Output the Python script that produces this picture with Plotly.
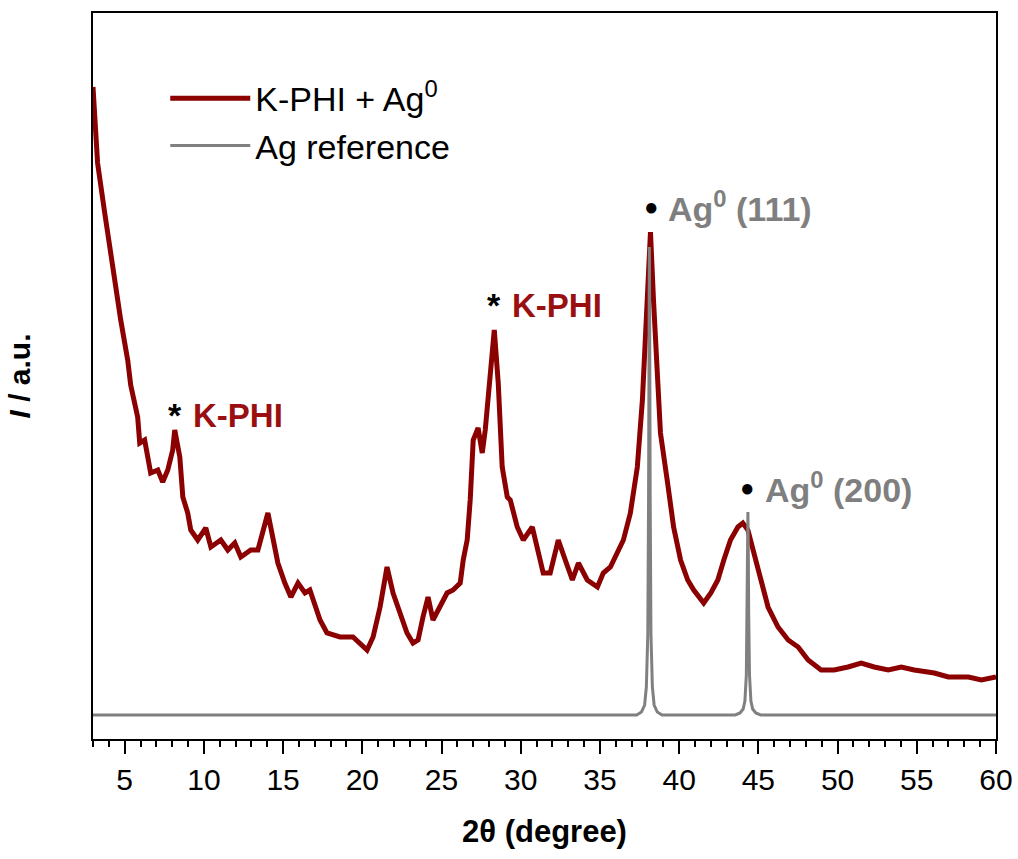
import plotly.graph_objects as go

# K-PHI + Ag0 pattern (2theta in degrees, intensity in a.u.)
two_theta_kphi = [3.0, 3.29, 3.74, 4.12, 4.37, 4.75, 5.19, 5.38, 5.82, 5.95, 6.26, 6.58, 6.64, 7.09, 7.40, 7.72,
                  8.03, 8.16, 8.48, 8.67, 8.98, 9.17, 9.61, 10.12, 10.44, 11.07, 11.51, 11.95, 12.33, 12.96,
                  13.41, 14.04, 14.36, 14.67, 15.11, 15.49, 15.94, 16.38, 16.69, 17.33, 17.77, 18.59, 19.41,
                  20.30, 20.68, 21.12, 21.56, 21.94, 22.38, 22.82, 23.20, 23.52, 23.83, 24.15, 24.46, 24.91,
                  25.35, 25.73, 26.18, 26.37, 26.62, 26.81, 27.00, 27.31, 27.57, 27.76, 28.07, 28.33, 28.58,
                  28.83, 29.15, 29.34, 29.78, 30.16, 30.73, 31.04, 31.42, 31.86, 32.37, 32.81, 33.26, 33.64,
                  34.20, 34.84, 35.21, 35.66, 36.10, 36.48, 36.92, 37.36, 37.68, 37.87, 38.06, 38.19, 38.38,
                  38.63, 38.82, 39.27, 39.65, 40.09, 40.54, 40.92, 41.55, 42.00, 42.44, 42.82, 43.24, 43.71,
                  44.02, 44.34, 44.72, 45.17, 45.61, 46.24, 46.88, 47.51, 48.14, 48.96, 49.78, 50.66, 51.49,
                  52.31, 53.20, 54.02, 54.84, 56.11, 56.99, 58.26, 59.08, 60.0]
intensity_kphi = [628, 552, 502, 462, 428, 395, 355, 330, 298, 272, 275, 252, 242, 245, 233, 245,
                  265, 285, 258, 218, 202, 185, 175, 187, 168, 175, 165, 172, 158, 165,
                  165, 202, 178, 152, 132, 118, 132, 122, 125, 95, 82, 78, 78,
                  65, 78, 108, 148, 122, 102, 82, 72, 75, 98, 118, 95, 108,
                  122, 125, 132, 155, 175, 215, 275, 287, 262, 285, 348, 385, 332,
                  248, 218, 215, 188, 175, 188, 168, 142, 142, 175, 155, 135, 152,
                  135, 128, 142, 148, 162, 175, 202, 248, 315, 382, 448, 483, 415,
                  332, 282, 232, 188, 155, 135, 125, 112, 122, 135, 155, 175, 188,
                  192, 185, 162, 135, 108, 88, 75, 68, 55, 45, 45, 48, 52,
                  48, 45, 48, 45, 42, 38, 38, 35, 38]

# Ag reference pattern
two_theta_ag = [3.0, 37.32, 37.62, 37.82, 37.93, 38.02, 38.07, 38.10, 38.12, 38.14, 38.17, 38.22, 38.31,
                38.42, 38.62, 38.92, 43.54, 43.84, 44.04, 44.15, 44.24, 44.29, 44.32, 44.34, 44.36, 44.39,
                44.44, 44.53, 44.64, 44.84, 45.14, 60.0]
intensity_ag = [0, 0, 3, 10, 28, 80, 220, 400, 468, 400, 220, 80, 28,
                10, 3, 0, 0, 2, 6, 14, 40, 100, 175, 203, 175, 100,
                40, 14, 6, 2, 0, 0]

# Peak labels
label_x = [8.16, 28.33, 38.25, 44.34]
label_y = [300, 410, 509, 228]

RED = "#8b0000"
GRAY = "#808080"
FONT = "Liberation Sans, Arial, sans-serif"

fig = go.Figure()
fig.add_trace(go.Scatter(x=two_theta_kphi, y=intensity_kphi, mode="lines",
                         line=dict(color=RED, width=5),
                         name="K-PHI + Ag<sup>0</sup>"))
fig.add_trace(go.Scatter(x=two_theta_ag, y=intensity_ag, mode="lines",
                         line=dict(color=GRAY, width=3),
                         name="Ag reference"))

# Markers (asterisks and dots) and label texts
for i in (0, 1):
    fig.add_annotation(x=label_x[i], y=label_y[i], text="<b>*</b>", showarrow=False,
                       font=dict(size=34, color="black", family=FONT), xanchor="center", yanchor="middle")
    fig.add_annotation(x=label_x[i], y=label_y[i], text="<b>K-PHI</b>", showarrow=False,
                       font=dict(size=33, color="#9a1010", family=FONT), xanchor="left", yanchor="middle",
                       xshift=16)
for i, lab in ((2, "111"), (3, "200")):
    fig.add_annotation(x=label_x[i], y=label_y[i], text="●", showarrow=False,
                       font=dict(size=24, color="black", family=FONT), xanchor="center", yanchor="middle")
    fig.add_annotation(x=label_x[i], y=label_y[i], text=f"<b>Ag<sup>0</sup> ({lab})</b>", showarrow=False,
                       font=dict(size=34, color="#7f7f7f", family=FONT), xanchor="left", yanchor="middle",
                       xshift=15)

fig.update_layout(
    width=1018, height=859,
    margin=dict(l=93, r=22, t=13, b=120),
    paper_bgcolor="white", plot_bgcolor="white",
    font=dict(family=FONT, color="black"),
    showlegend=True,
    legend=dict(x=0.080, y=0.922, xanchor="left", yanchor="top",
                font=dict(size=34, family=FONT, color="black"),
                bgcolor="rgba(0,0,0,0)", itemwidth=80, tracegroupgap=0),
    xaxis=dict(range=[3, 60], dtick=5, tick0=0, showgrid=False, zeroline=False,
               showline=True, linecolor="black", linewidth=2, mirror=True,
               ticks="outside", ticklen=13, tickwidth=2, tickcolor="black",
               tickfont=dict(size=30, family=FONT, color="black"),
               automargin=False, ticklabeloverflow="allow",
               minor=dict(dtick=1, ticks="outside", ticklen=6, tickwidth=2, tickcolor="black"),
               title=dict(text="<b>2θ (degree)</b>", font=dict(size=31, family=FONT, color="black"),
                          standoff=25)),
    yaxis=dict(range=[-24, 702], showgrid=False, zeroline=False,
               showline=True, linecolor="black", linewidth=2, mirror=True,
               ticks="", showticklabels=False, automargin=False,
               title=dict(text="<b><i>I</i> / a.u.</b>", font=dict(size=30, family=FONT, color="black"),
                          standoff=52)),
)

fig.write_html("out.html")
